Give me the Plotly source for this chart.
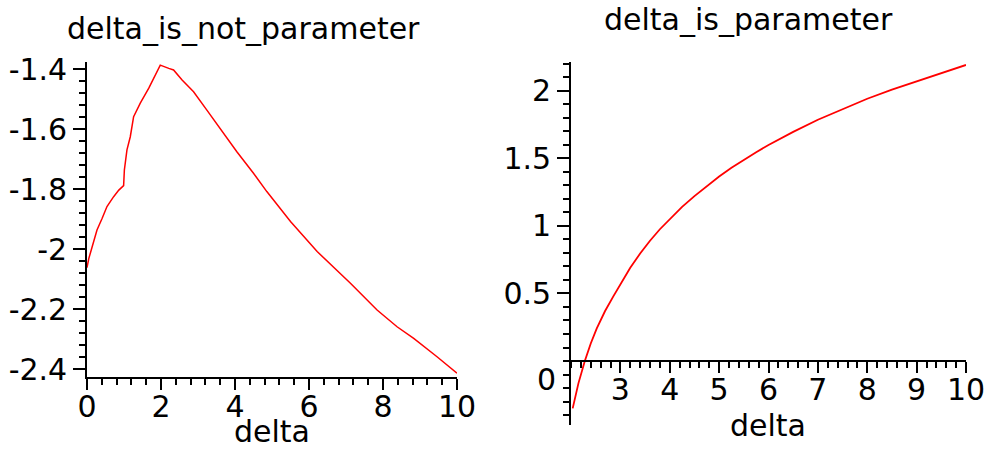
import plotly.graph_objects as go

# ---- data ----
left_x = [0.0, 0.05, 0.14, 0.27, 0.41, 0.54, 0.72, 0.86, 0.99, 1.01, 1.08, 1.17, 1.26,
          1.44, 1.67, 1.85, 1.98, 2.21, 2.34, 2.57, 2.88, 3.24, 3.69, 4.05, 4.50, 4.86,
          5.50, 6.22, 7.12, 7.84, 8.38, 8.83, 9.46, 10.0]
left_y = [-2.062, -2.031, -1.992, -1.936, -1.897, -1.858, -1.825, -1.803, -1.788, -1.736,
          -1.669, -1.625, -1.558, -1.513, -1.463, -1.419, -1.386, -1.397, -1.402, -1.436,
          -1.475, -1.536, -1.614, -1.675, -1.747, -1.808, -1.908, -2.008, -2.114, -2.203,
          -2.259, -2.298, -2.359, -2.414]

right_x = [2.034, 2.15, 2.28, 2.40, 2.52, 2.69, 2.86, 3.0, 3.2, 3.4, 3.6, 3.8, 4.0, 4.25,
           4.5, 4.75, 5.0, 5.25, 5.5, 5.75, 6.0, 6.5, 7.0, 7.5, 8.0, 8.5, 9.0, 9.5, 10.0]
right_y = [-0.350, -0.165, 0.0, 0.13, 0.24, 0.37, 0.48, 0.57, 0.69, 0.795, 0.89, 0.975,
           1.05, 1.14, 1.22, 1.295, 1.365, 1.43, 1.49, 1.545, 1.598, 1.695, 1.785, 1.865,
           1.94, 2.008, 2.07, 2.13, 2.19]

left_title = "delta_is_not_parameter"
right_title = "delta_is_parameter"
x_label = "delta"

left_xticks = [0, 2, 4, 6, 8, 10]
left_yticks = [-2.4, -2.2, -2.0, -1.8, -1.6, -1.4]
left_yticktext = ["-2.4", "-2.2", "-2", "-1.8", "-1.6", "-1.4"]
right_xticks = [3, 4, 5, 6, 7, 8, 9, 10]
right_yticks = [0.5, 1.0, 1.5, 2.0]
right_yticktext = ["0.5", "1", "1.5", "2"]

# ---- layout geometry ----
W, H = 985, 451
FONT = "DejaVu Sans"
fs = 30
tfs = 30

lx0, lx1 = 87 / W, 457 / W
ly0, ly1 = 1 - 377 / H, 1 - 62 / H
rx0, rx1 = 571 / W, 966 / W
ry0, ry1 = 1 - 425 / H, 1 - 62 / H

l_xrange = [0, 10]
l_yrange = [-2.4267, -1.3756]
r_xrange = [2, 10]
r_yrange = [-0.473, 2.212]

# paper position of y=0 on the right plot (x axis crosses there)
r_xaxis_pos = ry0 + (0 - r_yrange[0]) / (r_yrange[1] - r_yrange[0]) * (ry1 - ry0)

fig = go.Figure()
fig.add_trace(go.Scatter(x=left_x, y=left_y, mode="lines",
                         line=dict(color="#ff0000", width=1.5),
                         xaxis="x", yaxis="y", showlegend=False))
fig.add_trace(go.Scatter(x=right_x, y=right_y, mode="lines",
                         line=dict(color="#ff0000", width=1.8),
                         xaxis="x2", yaxis="y2", showlegend=False))

axis_common = dict(showgrid=False, zeroline=False, showline=True, automargin=False,
                   linecolor="black", linewidth=1.6, ticklabeloverflow="allow",
                   ticks="outside", tickcolor="black", tickwidth=1.5,
                   tickfont=dict(family=FONT, size=tfs, color="black"))

minor_common = dict(ticklen=6, ticks="outside", tickcolor="black", tickwidth=1.5)

fig.update_layout(
    width=W, height=H,
    margin=dict(l=0, r=0, t=0, b=0),
    paper_bgcolor="white", plot_bgcolor="white",
    font=dict(family=FONT, size=fs, color="black"),
    xaxis=dict(domain=[lx0, lx1], range=l_xrange, anchor="y",
               tickmode="array", tickvals=left_xticks, ticklen=11,
               ticklabelstandoff=-9,
               minor=dict(tickmode="linear", tick0=0, dtick=0.4, **minor_common),
               **axis_common),
    yaxis=dict(domain=[ly0, ly1], range=l_yrange, anchor="x",
               tickmode="array", tickvals=left_yticks, ticktext=left_yticktext,
               ticklen=12,
               minor=dict(tickmode="linear", tick0=-2.4, dtick=0.04, **minor_common),
               **axis_common),
    xaxis2=dict(domain=[rx0, rx1], range=r_xrange, anchor="free",
                position=r_xaxis_pos,
                tickmode="array", tickvals=right_xticks, ticklen=11,
                ticklabelstandoff=-9,
                minor=dict(tickmode="linear", tick0=2, dtick=0.2, **minor_common),
                **axis_common),
    yaxis2=dict(domain=[ry0, ry1], range=r_yrange, anchor="x2",
                tickmode="array", tickvals=right_yticks, ticktext=right_yticktext,
                ticklen=12,
                minor=dict(tickmode="linear", tick0=0, dtick=0.1, **minor_common),
                **axis_common),
    annotations=[
        dict(text=left_title, xref="paper", yref="paper", x=243 / W, y=1 - 28 / H,
             xanchor="center", yanchor="middle", showarrow=False,
             font=dict(family=FONT, size=fs, color="black")),
        dict(text=right_title, xref="paper", yref="paper", x=748 / W, y=1 - 20 / H,
             xanchor="center", yanchor="middle", showarrow=False,
             font=dict(family=FONT, size=fs, color="black")),
        dict(text=x_label, xref="paper", yref="paper", x=272 / W, y=0,
             xanchor="center", yanchor="bottom", showarrow=False,
             font=dict(family=FONT, size=fs, color="black")),
        dict(text=x_label, xref="paper", yref="paper", x=768 / W, y=1 - 425 / H,
             xanchor="center", yanchor="middle", showarrow=False,
             font=dict(family=FONT, size=fs, color="black")),
        dict(text="0", xref="x2", yref="y2", x=2, y=0,
             xanchor="right", yanchor="middle", xshift=-13, yshift=-18,
             showarrow=False, font=dict(family=FONT, size=tfs, color="black")),
    ],
)

fig.write_html("out.html")
